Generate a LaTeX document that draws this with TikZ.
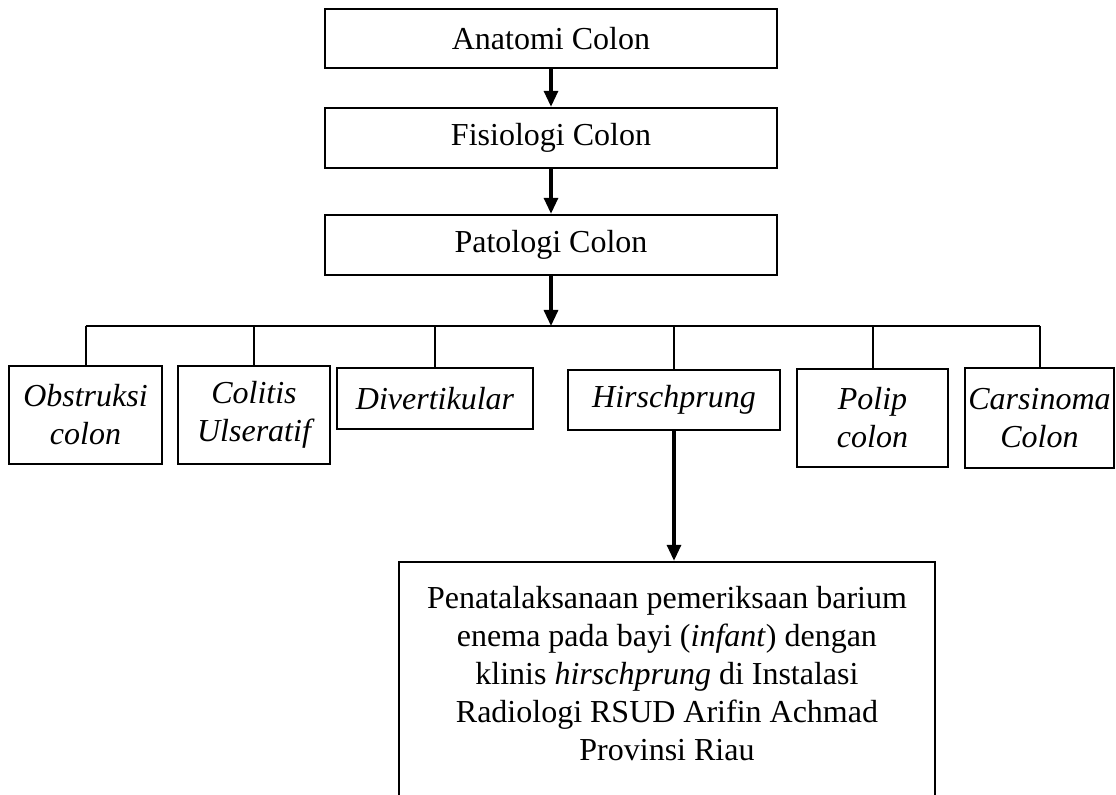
\documentclass[tikz,border=0pt]{standalone}
\usepackage{fontspec}
\setmainfont{Liberation Serif}
\usetikzlibrary{arrows.meta}
\tikzset{
  box/.style={draw, line width=1.2pt, align=center, inner xsep=1pt, inner ysep=1pt,
    font=\fontsize{16pt}{19pt}\selectfont},
  ibox/.style={box, font=\fontsize{16pt}{19pt}\selectfont\itshape},
  arr/.style={line width=1.6pt, -{Triangle[width=7pt,length=8pt]}},
  link/.style={line width=1pt},
  plain/.style={align=center, font=\fontsize{16pt}{19pt}\selectfont}
}
\begin{document}
\begin{tikzpicture}[x=0.5pt, y=-0.5pt]
\useasboundingbox (0,0) rectangle (1116,795);
\clip (0,0) rectangle (1116,795);
\fill[white] (0,0) rectangle (1116,795);
% top chain
\node[box, minimum width=226pt, minimum height=29.5pt] (anat) at (551,38.5) {Anatomi Colon};
\node[box, minimum width=226pt, minimum height=30pt] (fis) at (551,138) {Fisiologi Colon};
\node[box, minimum width=226pt, minimum height=30pt] (pat) at (551,245) {Patologi Colon};
\coordinate (hub) at (551,326);
\draw[arr] (anat) -- (fis);
\draw[arr] (fis) -- (pat);
\draw[arr] (pat) -- (hub);
% middle row
\node[ibox, minimum width=76.5pt, minimum height=49pt] (obs) at (85.5,415) {Obstruksi\\colon};
\node[ibox, minimum width=76pt, minimum height=49pt] (col) at (254,415) {Colitis\\Ulseratif};
\node[ibox, minimum width=98pt, minimum height=30.5pt] (div) at (435,398.5) {Divertikular};
\node[ibox, minimum width=106pt, minimum height=30pt] (hir) at (674,400) {Hirschprung};
\node[ibox, minimum width=75.5pt, minimum height=49pt] (pol) at (872.5,418) {Polip\\colon};
\node[ibox, minimum width=74.5pt, minimum height=50pt] (car) at (1039.5,418) {Carsinoma\\Colon};
\draw[link] (obs.north |- hub) -- (car.north |- hub);
\foreach \n in {obs,col,div,hir,pol,car}{
  \draw[link] (\n.north |- hub) -- (\n.north);
}
% final box (cut by page edge)
\node[draw, line width=1.2pt, minimum width=268pt, minimum height=134pt] (final) at (667,696) {};
\node[plain] (finaltext) at (667,674) {Penatalaksanaan pemeriksaan barium\\enema pada bayi (\textit{infant}) dengan\\klinis \textit{hirschprung} di Instalasi\\Radiologi RSUD Arifin Achmad\\Provinsi Riau};
\draw[arr] (hir.south) -- (hir.south |- final.north);
\end{tikzpicture}
\end{document}
